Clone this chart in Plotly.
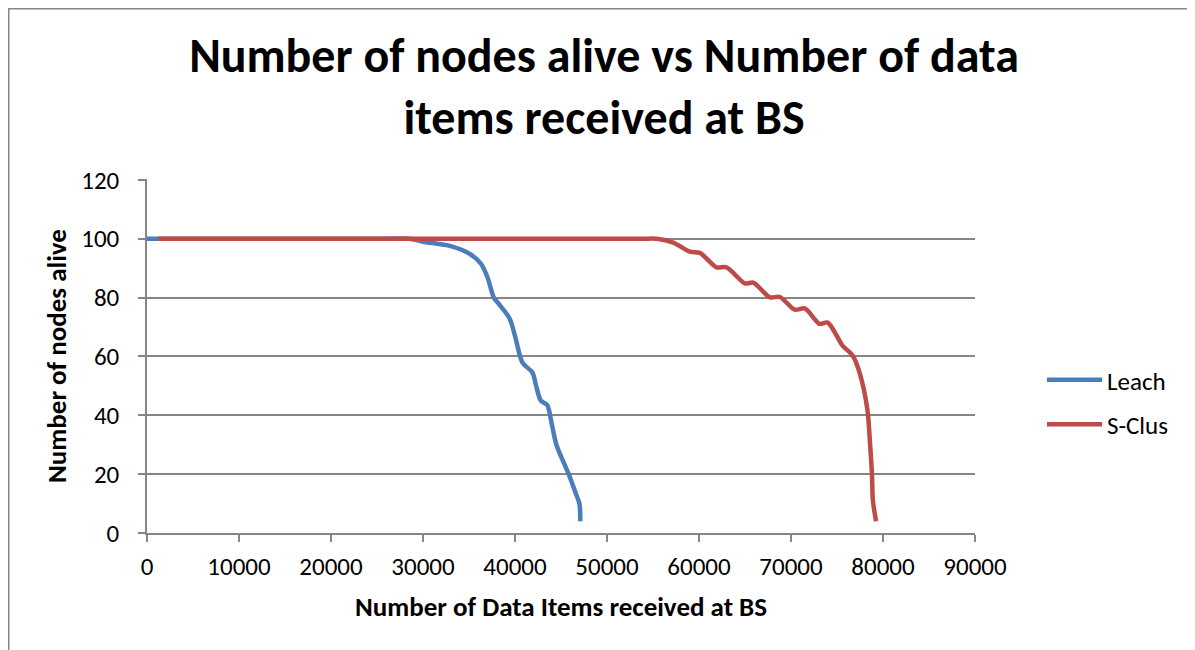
import plotly.graph_objects as go

leach_x = [0, 1000, 15000, 26000, 28500, 30000, 33000, 35000, 36300, 37000, 37700, 38200, 39400, 40000, 40800,
           41900, 42300, 42800, 43500, 44000, 44500, 45700, 46200, 46600, 47000, 47100]
leach_y = [100, 100, 100, 100, 100, 99, 97.5, 95, 91.5, 87, 80, 78, 73, 67, 58,
           54.5, 50, 45, 43.5, 37, 30, 21, 17, 13.5, 10, 4]

sclus_x = [1200, 20000, 40000, 50000, 54000, 55400, 57200, 59000, 60100, 61900, 63000, 65000, 65900, 67700, 68800,
           70400, 71500, 73100, 74000, 75600, 76700, 77500, 78300, 78600, 78800, 78900, 79250]
sclus_y = [100, 100, 100, 100, 100, 100, 98.7, 95.6, 95.2, 90.3, 90.3, 84.8, 85.1, 80.1, 80.2,
           75.9, 76.3, 71.1, 71.5, 63.7, 60.3, 54, 42, 30, 20, 11, 4]

x_ticks = [0, 10000, 20000, 30000, 40000, 50000, 60000, 70000, 80000, 90000]
y_ticks = [0, 20, 40, 60, 80, 100, 120]

title_text = "Number of nodes alive vs Number of data<br>items received at BS"

# page has an 8px body margin; figure pixel = page pixel - 8
OFF = 8
W, H = 1195 - OFF, 650 - OFF
L, T = 147 - OFF, 179 - OFF
pw, ph = 828, 354
R, B = W - L - pw, H - T - ph


def px(x):  # page pixel -> paper x
    return (x - OFF - L) / pw


def py(y):  # page pixel -> paper y
    return (H - B - (y - OFF)) / ph


fig = go.Figure()
fig.add_trace(go.Scatter(x=leach_x, y=leach_y, name="Leach", mode="lines", legendgroup="a",
                         line=dict(color="#4A7EBB", width=4.5, shape="spline", smoothing=0.8)))
fig.add_trace(go.Scatter(x=sclus_x, y=sclus_y, name="S-Clus", mode="lines", legendgroup="b",
                         line=dict(color="#BE4B48", width=4.5, shape="spline", smoothing=0.8)))

font = "Calibri, Carlito, Lato, sans-serif"
FS = 25
axis_common = dict(showline=True, linecolor="#868686", linewidth=1.5,
                   ticks="outside", ticklen=7, tickcolor="#868686", tickwidth=1.5,
                   tickfont=dict(family=font, size=FS, color="black"), zeroline=False)

fig.update_layout(
    width=W, height=H,
    margin=dict(l=L, r=R, t=T, b=B),
    paper_bgcolor="white", plot_bgcolor="white",
    title=dict(text="<b>" + title_text + "</b>",
               xref="container", yref="container",
               x=(604 - OFF) / W, xanchor="center", y=1 - (72 - OFF) / H, yanchor="middle",
               font=dict(family=font, size=48, color="black")),
    xaxis=dict(range=[0, 90000], tickvals=x_ticks, ticktext=[str(v) for v in x_ticks],
               showgrid=False, ticklabelstandoff=3,
               title=dict(text="<b>Number of Data Items received at BS</b>",
                          font=dict(family=font, size=27, color="black"), standoff=16),
               **axis_common),
    yaxis=dict(range=[0, 120.3], tickvals=y_ticks, showgrid=True, gridcolor="#868686", gridwidth=1.5,
               ticklabelstandoff=14,
               title=dict(text="<b>Number of nodes alive</b>",
                          font=dict(family=font, size=27, color="black"), standoff=7),
               **axis_common),
    legend=dict(x=px(1042), y=py(357), xanchor="left", yanchor="top",
                font=dict(family=font, size=FS, color="black"),
                itemwidth=55, tracegroupgap=9, bgcolor="rgba(0,0,0,0)"),
    shapes=[
        dict(type="line", xref="paper", yref="paper", x0=px(8.5), x1=px(8.5), y0=py(8), y1=py(700),
             line=dict(color="#868686", width=2)),
        dict(type="line", xref="paper", yref="paper", x0=px(7.5), x1=px(1250), y0=py(8.5), y1=py(8.5),
             line=dict(color="#868686", width=2)),
    ],
)

fig.write_html("out.html")
